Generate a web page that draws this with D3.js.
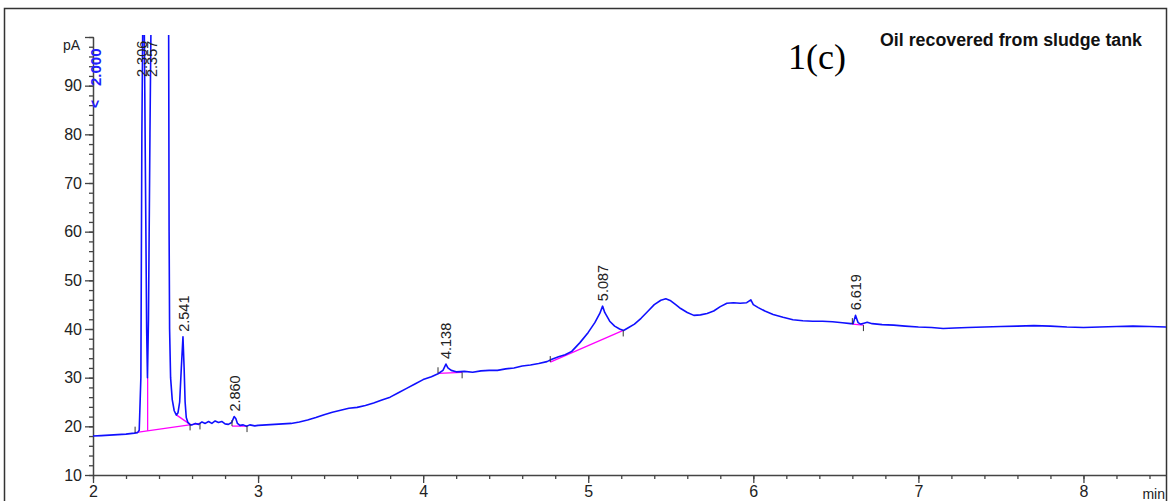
<!DOCTYPE html>
<html>
<head>
<meta charset="utf-8">
<script src="https://cdn.jsdelivr.net/npm/d3@7"></script>
<style>
  html, body { margin: 0; padding: 0; background: #fff; }
  svg { display: block; font-family: "Liberation Sans", Arial, sans-serif; }
</style>
</head>
<body>
<svg id="chart" width="1169" height="501"></svg>
<script>
// ---------- data (retention time in min, signal in pA) ----------
const times = [
  2.00, 2.05, 2.10, 2.15, 2.20, 2.25, 2.27, 2.28, 2.29, 2.296, 2.302, 2.31, 2.318, 2.325, 2.330, 2.336, 2.345, 2.352,
  2.40, 2.45, 2.458, 2.461, 2.464, 2.470, 2.480, 2.492, 2.505, 2.515, 2.525, 2.535, 2.545, 2.552, 2.558, 2.565, 2.575, 2.59,
  2.60, 2.62, 2.64, 2.66, 2.68, 2.70, 2.72, 2.74, 2.76, 2.78, 2.80, 2.82, 2.84, 2.855, 2.865, 2.875, 2.89, 2.91, 2.93, 2.95, 2.98,
  3.00, 3.05, 3.10, 3.15, 3.20, 3.25, 3.30, 3.35, 3.40, 3.45, 3.50, 3.55, 3.60, 3.65, 3.70, 3.75, 3.80, 3.85, 3.90, 3.95,
  4.00, 4.05, 4.09, 4.12, 4.138, 4.15, 4.17, 4.20, 4.25, 4.30, 4.35, 4.40, 4.45, 4.50, 4.55, 4.60, 4.65, 4.70, 4.75, 4.78,
  4.82, 4.86, 4.90, 4.95, 5.00, 5.04, 5.07, 5.087, 5.10, 5.13, 5.16, 5.19, 5.214, 5.24, 5.28, 5.32, 5.36, 5.40, 5.44, 5.47,
  5.50, 5.53, 5.56, 5.60, 5.64, 5.68, 5.72, 5.76, 5.80, 5.84, 5.88, 5.92, 5.96, 5.985, 6.00, 6.03, 6.07, 6.12, 6.18, 6.24,
  6.30, 6.36, 6.42, 6.48, 6.54, 6.59, 6.605, 6.619, 6.635, 6.65, 6.67, 6.69, 6.72, 6.78, 6.85, 6.92, 7.00, 7.08, 7.15, 7.22,
  7.30, 7.40, 7.50, 7.60, 7.70, 7.80, 7.90, 8.00, 8.10, 8.20, 8.30, 8.40, 8.50
];
const signal = [
  18.0, 18.1, 18.2, 18.3, 18.4, 18.6, 18.7, 19.2, 30, 80, 105, 105, 70, 40, 30, 42, 80, 105,
  140, 140, 105, 60, 40, 30, 25.5, 23.2, 22.3, 22.8, 25, 32, 38.4, 32, 25, 21.8, 20.8, 20.3,
  20.3, 20.6, 20.4, 20.9, 20.6, 21.0, 20.6, 21.1, 20.8, 21.0, 20.5, 20.4, 20.8, 22.0, 21.6, 20.6, 20.2, 20.3, 20.0, 20.3, 20.1,
  20.2, 20.3, 20.4, 20.5, 20.6, 20.9, 21.3, 21.8, 22.4, 22.9, 23.3, 23.7, 23.9, 24.3, 24.8, 25.4, 26.0, 26.9, 27.8, 28.7,
  29.6, 30.2, 30.8, 31.5, 32.8, 32.0, 31.5, 31.2, 31.3, 31.1, 31.4, 31.5, 31.5, 31.8, 32.0, 32.4, 32.6, 32.9, 33.3, 33.8,
  34.3, 34.7, 35.4, 37.2, 39.3, 41.3, 43.2, 44.7, 43.4, 41.6, 40.6, 40.0, 39.7, 40.2, 41.0, 42.2, 43.6, 45.0, 45.9, 46.2,
  45.8, 45.0, 44.2, 43.4, 42.8, 42.9, 43.2, 43.7, 44.6, 45.3, 45.4, 45.3, 45.4, 46.0, 45.0, 44.4, 43.7, 43.0, 42.4, 41.9,
  41.7, 41.6, 41.6, 41.5, 41.3, 41.1, 41.1, 42.8, 41.3, 41.0, 41.2, 41.4, 41.1, 40.9, 40.8, 40.6, 40.4, 40.3, 40.1, 40.2,
  40.3, 40.4, 40.5, 40.6, 40.7, 40.6, 40.4, 40.3, 40.4, 40.5, 40.6, 40.5, 40.4
];

// integration baselines (pink): start time/value, end time/value
const baseT0 = [2.255, 2.507, 2.331, 2.842, 4.090, 4.770, 6.600];
const baseV0 = [18.7, 22.3, 19.07, 20.05, 30.9, 33.2, 41.0];
const baseT1 = [2.648, 2.588, 2.331, 2.933, 4.236, 5.212, 6.667];
const baseV1 = [20.6, 20.4, 30.0, 20.05, 31.1, 39.7, 40.8];

// peak start / end event markers
const startT = [2.255, 2.842, 4.090, 4.770, 6.600];
const startV = [18.7, 20.05, 30.9, 33.2, 41.0];
const endT = [2.588, 2.648, 2.933, 4.236, 5.212, 6.667];
const endV = [20.4, 20.6, 20.05, 31.1, 39.7, 40.8];

// peak labels
const peakLabels = ["2.306", "2.357", "2.541", "2.860", "4.138", "5.087", "6.619"];
const peakTimes = [2.295, 2.358, 2.548, 2.860, 4.138, 5.087, 6.619];
const peakApex = [140, 140, 38.4, 22.0, 32.8, 44.7, 42.8];

const xTicks = [2, 3, 4, 5, 6, 7, 8];
const yTicks = [10, 20, 30, 40, 50, 60, 70, 80, 90];

// ---------- layout ----------
const svg = d3.select("#chart");
const L = 93, R = 1166, T = 37, B = 475;
const x = d3.scaleLinear().domain([2, 8.5]).range([L, R]);
const y = d3.scaleLinear().domain([10, 100]).range([B, T]);

// outer frame
svg.append("rect").attr("x", 4.5).attr("y", 8.5).attr("width", 1162).attr("height", 520)
  .attr("fill", "none").attr("stroke", "#333").attr("stroke-width", 1.5);

const axisColor = "#444";
// minor y ticks
const yMinor = d3.range(10, 100.1, 2);
svg.append("g").attr("transform", `translate(${L + 1},0)`)
  .call(d3.axisLeft(y).tickValues(yMinor).tickSize(5).tickSizeOuter(0).tickFormat(""))
  .call(g => g.select(".domain").remove())
  .call(g => g.selectAll("line").attr("stroke", axisColor).attr("stroke-width", 1.3));
// major y
svg.append("g").attr("transform", `translate(${L},0)`)
  .call(d3.axisLeft(y).tickValues(yTicks.concat([100])).tickSize(8).tickSizeOuter(0)
    .tickFormat(d => d === 100 ? "" : d))
  .call(g => g.select(".domain").attr("stroke", axisColor).attr("stroke-width", 1.5))
  .call(g => g.selectAll("line").attr("stroke", axisColor).attr("stroke-width", 1.3))
  .call(g => g.selectAll("text").attr("font-size", 16).attr("fill", "#222")
    .attr("font-family", "'Liberation Sans', Arial, sans-serif"));

// minor x ticks
const xMinor = d3.range(2, 8.51, 0.2);
svg.append("g").attr("transform", `translate(0,${B})`)
  .call(d3.axisBottom(x).tickValues(xMinor).tickSize(4).tickSizeOuter(0).tickFormat(""))
  .call(g => g.select(".domain").remove())
  .call(g => g.selectAll("line").attr("stroke", axisColor).attr("stroke-width", 1.3));
// major x
svg.append("g").attr("transform", `translate(0,${B})`)
  .call(d3.axisBottom(x).tickValues(xTicks).tickSize(8).tickSizeOuter(0).tickFormat(d3.format("d")))
  .call(g => g.select(".domain").attr("stroke", axisColor).attr("stroke-width", 1.5))
  .call(g => g.selectAll("line").attr("stroke", axisColor).attr("stroke-width", 1.3))
  .call(g => g.selectAll("text").attr("font-size", 16).attr("fill", "#222")
    .attr("font-family", "'Liberation Sans', Arial, sans-serif"));

// axis unit labels
svg.append("text").attr("x", L - 13).attr("y", y(100) + 13).attr("text-anchor", "end")
  .attr("font-size", 14).attr("fill", "#222").text("pA");
svg.append("text").attr("x", R - 1).attr("y", B + 24).attr("text-anchor", "end")
  .attr("font-size", 14).attr("fill", "#222").text("min");

// clip
svg.append("clipPath").attr("id", "plotclip").append("rect")
  .attr("x", L).attr("y", T - 2).attr("width", R - L).attr("height", B - T + 2);

const plot = svg.append("g").attr("clip-path", "url(#plotclip)");

// baselines
plot.selectAll("line.base").data(baseT0).enter().append("line").attr("class", "base")
  .attr("x1", (d, i) => x(baseT0[i])).attr("y1", (d, i) => y(baseV0[i]))
  .attr("x2", (d, i) => x(baseT1[i])).attr("y2", (d, i) => y(baseV1[i]))
  .attr("stroke", "#ff00ff").attr("stroke-width", 1.3);

// signal
const pts = times.map((t, i) => [t, signal[i]]);
plot.append("path").datum(pts)
  .attr("d", d3.line().x(d => x(d[0])).y(d => y(d[1])))
  .attr("fill", "none").attr("stroke", "#1010ff").attr("stroke-width", 1.6)
  .attr("stroke-linejoin", "round");

// event ticks
plot.selectAll("line.st").data(startT).enter().append("line")
  .attr("x1", (d) => x(d)).attr("x2", (d) => x(d))
  .attr("y1", (d, i) => y(startV[i])).attr("y2", (d, i) => y(startV[i]) - 6)
  .attr("stroke", "#333").attr("stroke-width", 1);
plot.selectAll("line.en").data(endT).enter().append("line")
  .attr("x1", (d) => x(d)).attr("x2", (d) => x(d))
  .attr("y1", (d, i) => y(endV[i])).attr("y2", (d, i) => y(endV[i]) + 6)
  .attr("stroke", "#333").attr("stroke-width", 1);

// peak labels (rotated)
svg.selectAll("text.pk").data(peakLabels).enter().append("text").attr("class", "pk")
  .attr("transform", (d, i) => {
    const px = x(peakTimes[i]);
    const py = peakApex[i] >= 100 ? y(100) + 40 : y(peakApex[i]) - 5;
    return `translate(${px},${py}) rotate(-90)`;
  })
  .attr("dy", "0.36em").attr("font-size", 14.5).attr("fill", "#222").text(d => d);

// start marker (blue)
svg.append("text").attr("transform", `translate(${x(2) + 3},${y(100) + 49}) rotate(-90)`)
  .attr("dy", "0.36em").attr("font-size", 15).attr("font-weight", "bold").attr("fill", "#2020ff").text("2.000");
svg.append("text").attr("transform", `translate(${x(2) + 2},${y(100) + 71}) rotate(-90)`)
  .attr("dy", "0.36em").attr("font-size", 14).attr("font-weight", "bold").attr("fill", "#2020ff").text("<");

// annotations
svg.append("text").attr("x", 788).attr("y", 69).attr("font-family", "'Liberation Serif', 'Times New Roman', serif")
  .attr("font-size", 36).attr("fill", "#000").text("1(c)");
svg.append("text").attr("x", 880).attr("y", 46).attr("font-size", 17.5).attr("font-weight", "bold")
  .attr("textLength", 262).attr("lengthAdjust", "spacingAndGlyphs")
  .attr("fill", "#111").text("Oil recovered from sludge tank");
</script>
</body>
</html>
